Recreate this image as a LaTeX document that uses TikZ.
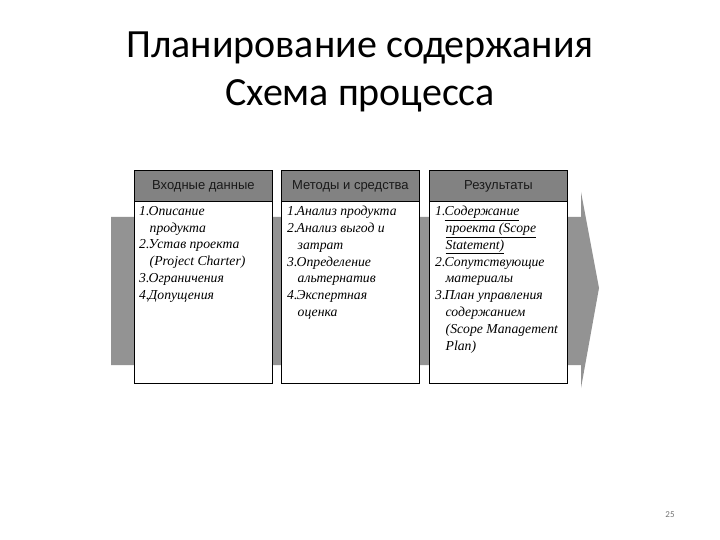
\documentclass[tikz,border=0pt]{standalone}
\usepackage{fontspec}
\setmainfont{Liberation Serif}
\newfontfamily\titlefont{Carlito}
\newfontfamily\hdrfont{Liberation Sans}
\definecolor{arrowgray}{HTML}{939393}
\definecolor{hdrgray}{HTML}{828282}
\newcommand{\nm}[1]{\makebox[9.5pt][l]{#1}}
\newcommand{\ind}{\hspace*{10.5pt}}
\begin{document}
\begin{tikzpicture}[x=1pt,y=-1pt,
  hdr/.style={draw=black, line width=0.8pt, fill=hdrgray, minimum width=138pt, minimum height=31pt, inner sep=0pt, anchor=north west,
    font=\hdrfont\fontsize{13}{15}\selectfont, text=black!90},
  bodybox/.style={draw=black, line width=0.8pt, fill=white, minimum width=138pt, minimum height=182pt, inner sep=0pt, anchor=north west},
  lst/.style={anchor=north west, inner sep=0pt, align=left, font=\fontsize{13.7}{16.8}\selectfont\itshape},
  ttl/.style={font=\titlefont\fontsize{40}{48}\selectfont}]
\useasboundingbox (0,0) rectangle (720,540);
\fill[white] (0,0) rectangle (720,540);
% titles
\node[ttl] (t1) at (360,48) {Планирование содержания};
\node[ttl] (t2) at (360,96) {Схема процесса};
% arrow
\fill[arrowgray] (111,217) -- (581,217) -- (581,192) -- (599,288) -- (581,388) -- (581,365) -- (111,365) -- cycle;
% boxes
\node[bodybox] (b1) at (134,201) {};
\node[hdr] (h1) at (134,170) {Входные данные};
\node[bodybox] (b2) at (281,201) {};
\node[hdr] (h2) at (281,170) {Методы и средства};
\node[bodybox] (b3) at (429,201) {};
\node[hdr] (h3) at (429,170) {Результаты};
% lists
\node[lst] (l1) at (139,206) {\nm{1.}Описание\\ \ind продукта\\ \nm{2.}Устав проекта\\ \ind (Project Charter)\\ \nm{3.}Ограничения\\ \nm{4.}Допущения};
\node[lst] (l2) at (287,206) {\nm{1.}Анализ продукта\\ \nm{2.}Анализ выгод и\\ \ind затрат\\ \nm{3.}Определение\\ \ind альтернатив\\ \nm{4.}Экспертная\\ \ind оценка};
\node[lst] (l3) at (435,206) {\nm{1.}\underline{Содержание}\\ \ind \underline{проекта (Scope}\\ \ind \underline{Statement)}\\ \nm{2.}Сопутствующие\\ \ind материалы\\ \nm{3.}План управления\\ \ind содержанием\\ \ind (Scope Management\\ \ind Plan)};
% page number
\node[font=\titlefont\fontsize{9}{10}\selectfont, text=black!55] (pg) at (670,515) {25};
\end{tikzpicture}
\end{document}
